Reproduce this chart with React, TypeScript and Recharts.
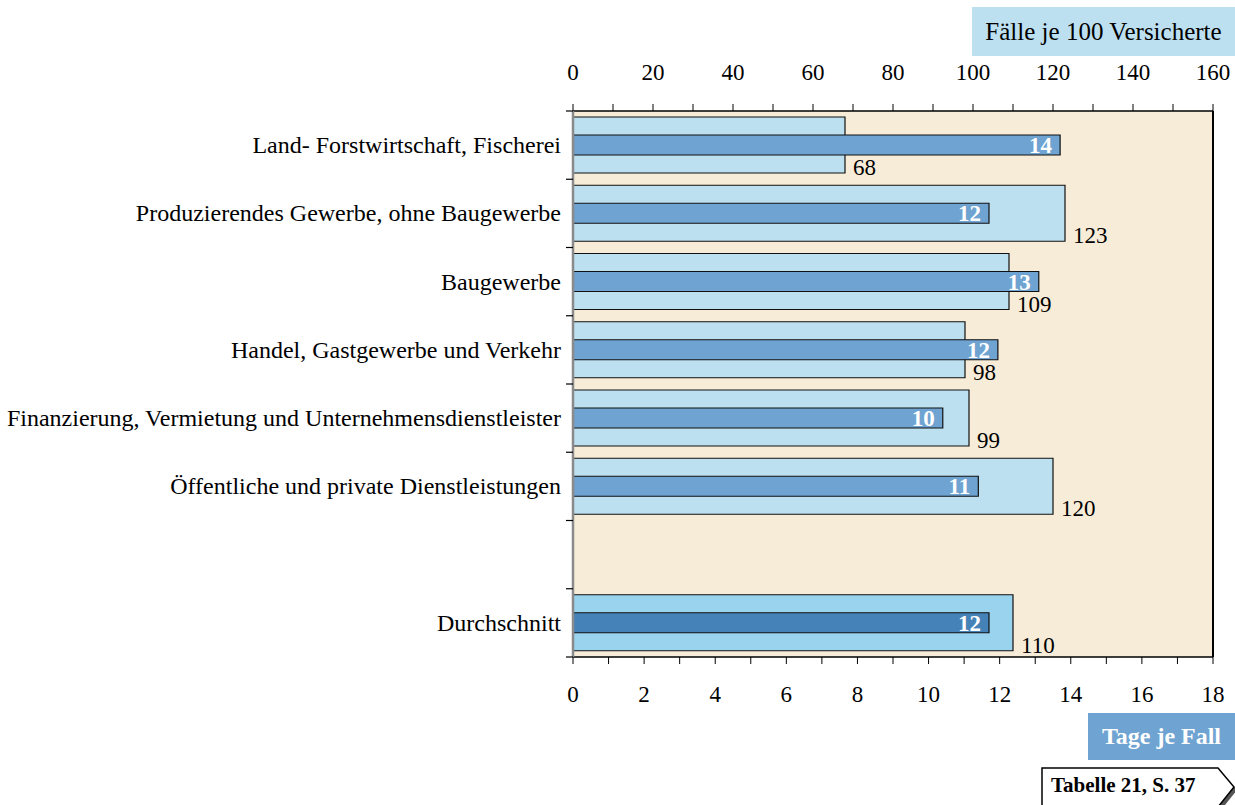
import { BarChart, Bar, XAxis, YAxis, CartesianGrid, ReferenceLine, LabelList, Cell } from "recharts";

// Branchen (leere Zeile als Abstand vor dem Durchschnitt)
const categories = [
  "Land- Forstwirtschaft, Fischerei",
  "Produzierendes Gewerbe, ohne Baugewerbe",
  "Baugewerbe",
  "Handel, Gastgewerbe und Verkehr",
  "Finanzierung, Vermietung und Unternehmensdienstleister",
  "Öffentliche und private Dienstleistungen",
  "",
  "Durchschnitt",
];

// Fälle je 100 Versicherte (obere Achse)
const faelle = [68, 123, 109, 98, 99, 120, null, 110];

// Tage je Fall (untere Achse)
const tage = [13.7, 11.7, 13.1, 11.95, 10.4, 11.4, null, 11.7];

const faelleTicks = [0, 10, 20, 30, 40, 50, 60, 70, 80, 90, 100, 110, 120, 130, 140, 150, 160];
const tageTicks = [0, 1, 2, 3, 4, 5, 6, 7, 8, 9, 10, 11, 12, 13, 14, 15, 16, 17, 18];

const FONT = '"Liberation Serif", "Times New Roman", serif';
const LIGHT = "#bde0f0";
const DARK = "#6fa3d1";
const LIGHT_AVG = "#9ad3ee";
const DARK_AVG = "#4582b8";
const BG = "#f7ecd8";

const data = categories.map((name, i) => ({ name, faelle: faelle[i], tage: tage[i] }));
const isAvg = (name: string) => name === "Durchschnitt";

const TopTick = (props: any) => {
  const { x, y, payload } = props;
  if (payload.value % 20 !== 0) return <g />;
  return (
    <text x={x} y={y} dy={-22} textAnchor="middle" fontFamily={FONT} fontSize={23} fill="#000">
      {payload.value}
    </text>
  );
};

const BottomTick = (props: any) => {
  const { x, y, payload } = props;
  if (payload.value % 2 !== 0) return <g />;
  return (
    <text x={x} y={y} dy={36} textAnchor="middle" fontFamily={FONT} fontSize={23} fill="#000">
      {payload.value}
    </text>
  );
};

const CatTick = (props: any) => {
  const { x, y, payload, index } = props;
  const off = payload.offset || 34;
  const last = index === categories.length - 1;
  return (
    <g>
      <line x1={x + 5} x2={x + 12} y1={y - off} y2={y - off} stroke="#000" strokeWidth={1.2} />
      {last && <line x1={x + 5} x2={x + 12} y1={y + off} y2={y + off} stroke="#000" strokeWidth={1.2} />}
      <text x={x} y={y} dy={8} textAnchor="end" fontFamily={FONT} fontSize={24} fill="#000">
        {payload.value}
      </text>
    </g>
  );
};

const FaelleLabel = (props: any) => {
  const { x, y, width, height, value } = props;
  if (value == null) return null;
  return (
    <text x={x + width + 8} y={y + height + 2} fontFamily={FONT} fontSize={23} fill="#000">
      {value}
    </text>
  );
};

const TageLabel = (props: any) => {
  const { x, y, width, height, value } = props;
  if (value == null) return null;
  return (
    <text
      x={x + width - 8}
      y={y + height / 2}
      dy={8}
      textAnchor="end"
      fontFamily={FONT}
      fontSize={23}
      fontWeight="bold"
      fill="#fff"
    >
      {Math.round(value)}
    </text>
  );
};

export default function App() {
  return (
    <div style={{ position: "absolute", left: 0, top: 0, width: 1235, height: 805, background: "#fff", overflow: "hidden" }}>
      <BarChart
        width={1235}
        height={805}
        data={data}
        layout="vertical"
        margin={{ top: 61, right: 22, bottom: 98, left: 13 }}
      >
        <CartesianGrid xAxisId="faelle" yAxisId="cat" horizontal={false} vertical={false} fill={BG} stroke="none" />
        <XAxis
          xAxisId="faelle"
          type="number"
          orientation="top"
          domain={[0, 160]}
          ticks={faelleTicks}
          interval={0}
          height={50}
          tickSize={7}
          tickMargin={2}
          tick={<TopTick />}
          axisLine={{ stroke: "#000", strokeWidth: 1.5 }}
          tickLine={{ stroke: "#000" }}
        />
        <XAxis
          xAxisId="tage"
          type="number"
          orientation="bottom"
          domain={[0, 18]}
          ticks={tageTicks}
          interval={0}
          height={50}
          tickSize={7}
          tickMargin={2}
          tick={<BottomTick />}
          axisLine={{ stroke: "#000", strokeWidth: 1.5 }}
          tickLine={{ stroke: "#000" }}
        />
        <YAxis
          yAxisId="cat"
          type="category"
          dataKey="name"
          width={560}
          interval={0}
          tickSize={0}
          tickMargin={12}
          tickLine={false}
          tick={<CatTick />}
          axisLine={{ stroke: "#8a8a8a", strokeWidth: 2.5 }}
        />
        <YAxis yAxisId="cat2" type="category" dataKey="name" hide />
        <ReferenceLine xAxisId="faelle" yAxisId="cat" x={160} stroke="#000" strokeWidth={2} />
        <Bar
          dataKey="faelle"
          xAxisId="faelle"
          yAxisId="cat"
          barSize={56}
          fill={LIGHT}
          stroke="#111"
          strokeWidth={1.2}
          isAnimationActive={false}
        >
          {data.map((d, i) => (
            <Cell key={i} fill={isAvg(d.name) ? LIGHT_AVG : LIGHT} />
          ))}
          <LabelList dataKey="faelle" content={<FaelleLabel />} />
        </Bar>
        <Bar
          dataKey="tage"
          xAxisId="tage"
          yAxisId="cat2"
          barSize={20}
          fill={DARK}
          stroke="#111"
          strokeWidth={1.2}
          isAnimationActive={false}
        >
          {data.map((d, i) => (
            <Cell key={i} fill={isAvg(d.name) ? DARK_AVG : DARK} />
          ))}
          <LabelList dataKey="tage" content={<TageLabel />} />
        </Bar>
      </BarChart>

      <div
        style={{
          position: "absolute",
          left: 972,
          top: 7,
          width: 263,
          height: 49,
          background: LIGHT,
          fontFamily: FONT,
          fontSize: 25,
          lineHeight: "49px",
          textAlign: "center",
          color: "#000",
          whiteSpace: "nowrap",
        }}
      >
        Fälle je 100 Versicherte
      </div>

      <div
        style={{
          position: "absolute",
          left: 1088,
          top: 713,
          width: 147,
          height: 47,
          background: DARK,
          fontFamily: FONT,
          fontSize: 24,
          fontWeight: "bold",
          lineHeight: "47px",
          textAlign: "center",
          color: "#fff",
          whiteSpace: "nowrap",
        }}
      >
        Tage je Fall
      </div>

      <svg style={{ position: "absolute", left: 1040, top: 766 }} width={195} height={39}>
        <polygon points="5,6 181,6 197,24 181,44 5,44" fill="#555" />
        <polygon points="2,2 178,2 194,21 178,41 2,41" fill="#fff" stroke="#000" strokeWidth={1.5} />
        <text x={11} y={26} fontFamily={FONT} fontSize={21} fontWeight="bold" fill="#000">
          Tabelle 21, S. 37
        </text>
      </svg>
    </div>
  );
}
